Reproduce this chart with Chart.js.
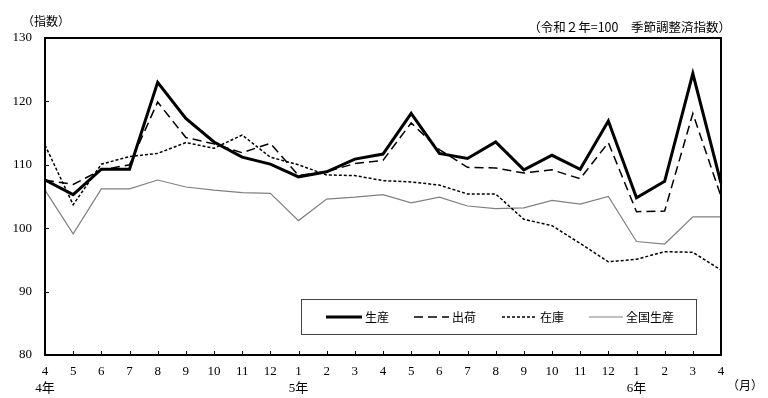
<!DOCTYPE html>
<html lang="ja">
<head>
<meta charset="utf-8">
<title>生産・出荷・在庫指数</title>
<script src="https://cdn.jsdelivr.net/npm/chart.js@4"></script>
<style>
    html, body { margin: 0; padding: 0; background: #fff; }
    #wrap { width: 768px; height: 398px; position: relative; }
</style>
</head>
<body>
<div id="wrap"><canvas id="chart"></canvas></div>
<script>
const monthLabels = ['4', '5', '6', '7', '8', '9', '10', '11', '12', '1', '2', '3', '4',
    '5', '6', '7', '8', '9', '10', '11', '12', '1', '2', '3', '4'];
const yearLabels = ['4年', '', '', '', '', '', '', '', '', '5年', '', '', '',
    '', '', '', '', '', '', '', '', '6年', '', '', ''];

const production = [107.6, 105.3, 109.3, 109.3, 123.0, 117.3, 113.6, 111.2, 110.1, 108.1, 108.9, 110.9, 111.7,
    118.1, 111.8, 111.0, 113.6, 109.2, 111.5, 109.3, 116.9, 104.8, 107.4, 124.4, 107.1];
const shipments = [107.6, 106.9, 109.2, 110.0, 119.9, 114.3, 113.3, 111.9, 113.4, 108.3, 108.9, 110.2, 110.7,
    116.6, 112.4, 109.6, 109.5, 108.7, 109.2, 107.8, 113.5, 102.6, 102.7, 118.1, 105.0];
const inventory = [113.1, 103.7, 110.1, 111.3, 111.8, 113.5, 112.6, 114.7, 111.2, 110.0, 108.4, 108.3, 107.5,
    107.3, 106.8, 105.4, 105.4, 101.4, 100.4, 97.6, 94.7, 95.1, 96.3, 96.2, 93.4];
const nationalProduction = [106.0, 99.1, 106.2, 106.2, 107.6, 106.5, 106.0, 105.6, 105.5, 101.2, 104.6, 104.9, 105.3,
    104.0, 104.9, 103.5, 103.1, 103.2, 104.4, 103.8, 105.0, 97.9, 97.5, 101.8, 101.8];

const yTicks = [80, 90, 100, 110, 120, 130];

const numFont = '"Liberation Serif", "Noto Sans CJK JP", serif';
const jpFont = '"Noto Sans CJK JP", sans-serif';

// frame, inward tick marks, boxed legend and the notes around the plot
const decorations = {
    id: 'decorations',
    afterDatasetsDraw(chart) {
        const { ctx, chartArea: a, scales: { x, y } } = chart;
        ctx.save();
        ctx.strokeStyle = '#000';
        ctx.lineWidth = 2;
        ctx.strokeRect(a.left, a.top, a.right - a.left, a.bottom - a.top);

        ctx.lineWidth = 1;
        ctx.beginPath();
        monthLabels.forEach((_, i) => {
            const px = Math.round(x.getPixelForValue(i)) + 0.5;
            ctx.moveTo(px, a.bottom);
            ctx.lineTo(px, a.bottom - 4);
        });
        yTicks.forEach(v => {
            const py = Math.round(y.getPixelForValue(v)) + 0.5;
            ctx.moveTo(a.left, py);
            ctx.lineTo(a.left + 4, py);
        });
        ctx.stroke();

        // legend
        ctx.fillStyle = '#fff';
        ctx.fillRect(301, 299, 395, 35);
        ctx.strokeStyle = '#444';
        ctx.lineWidth = 1;
        ctx.strokeRect(301.5, 299.5, 395, 35);
        const items = [[326, 362], [414, 449], [502, 537], [589, 623]];
        ctx.font = '12px ' + jpFont;
        ctx.textBaseline = 'middle';
        chart.data.datasets.forEach((ds, i) => {
            const [x0, x1] = items[i];
            ctx.strokeStyle = ds.borderColor;
            ctx.lineWidth = ds.borderWidth;
            ctx.setLineDash(ds.borderDash || []);
            ctx.beginPath();
            ctx.moveTo(x0, 317);
            ctx.lineTo(x1, 317);
            ctx.stroke();
            ctx.setLineDash([]);
            ctx.fillStyle = '#000';
            ctx.fillText(ds.label, x1 + 3, 317);
        });

        ctx.fillStyle = '#000';
        ctx.fillText('（指数）', 22, 21);
        ctx.textAlign = 'right';
        ctx.font = '12.5px ' + jpFont;
        ctx.fillText('（令和２年=100　季節調整済指数）', 731, 27);
        ctx.textAlign = 'center';
        ctx.font = '12px ' + jpFont;
        ctx.fillText('（月）', 745, 385);
        ctx.restore();
    }
};

new Chart(document.getElementById('chart'), {
    type: 'line',
    data: {
        labels: monthLabels.map((m, i) => yearLabels[i] ? [m, yearLabels[i]] : m),
        datasets: [
            { label: '生産', data: production, borderColor: '#000', borderWidth: 3 },
            { label: '出荷', data: shipments, borderColor: '#000', borderWidth: 1.5, borderDash: [9, 5] },
            { label: '在庫', data: inventory, borderColor: '#000', borderWidth: 1.5, borderDash: [3, 2] },
            { label: '全国生産', data: nationalProduction, borderColor: '#808080', borderWidth: 1.2 }
        ]
    },
    options: {
        responsive: true,
        maintainAspectRatio: false,
        animation: false,
        elements: { point: { radius: 0 }, line: { tension: 0 } },
        layout: { padding: { top: 38, right: 47, left: 0, bottom: 0 } },
        plugins: { legend: { display: false }, tooltip: { enabled: false } },
        scales: {
            x: {
                grid: { display: false, drawTicks: false },
                border: { display: false },
                afterFit(scale) { scale.height = 43; },
                ticks: {
                    autoSkip: false,
                    maxRotation: 0,
                    padding: 8,
                    color: '#000',
                    font: { family: numFont, size: 13, lineHeight: 1.3 }
                }
            },
            y: {
                min: 80,
                max: 130,
                grid: { display: false, drawTicks: false },
                border: { display: false },
                afterFit(scale) { scale.width = 45; },
                afterBuildTicks(scale) { scale.ticks = yTicks.map(v => ({ value: v })); },
                ticks: {
                    padding: 13,
                    color: '#000',
                    font: { family: numFont, size: 13 }
                }
            }
        }
    },
    plugins: [decorations]
});
</script>
</body>
</html>
